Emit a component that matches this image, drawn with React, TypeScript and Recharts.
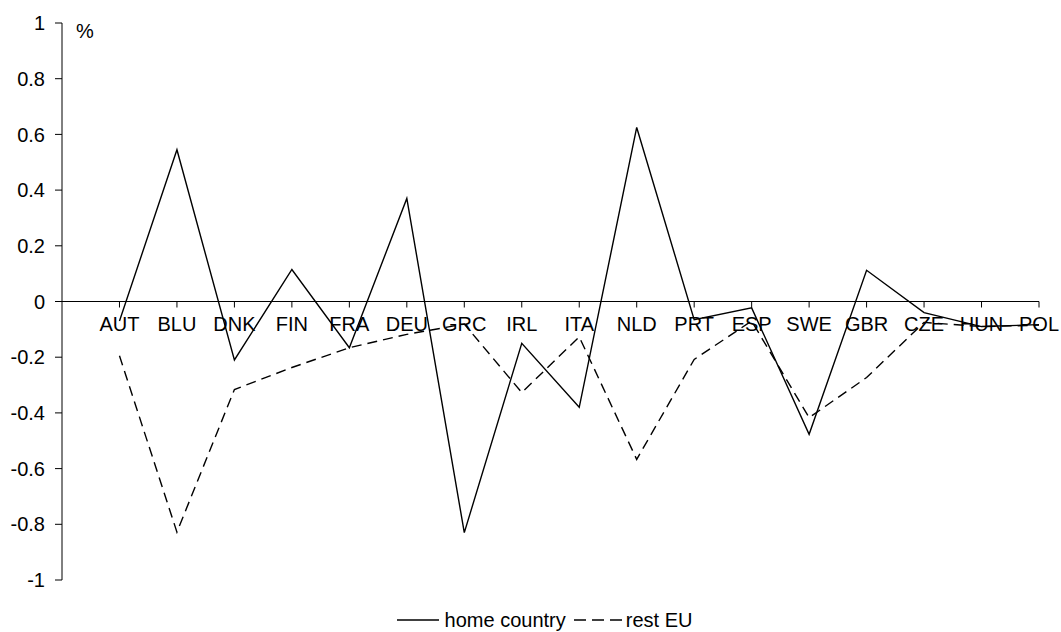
import { LineChart, Line, XAxis, YAxis, ReferenceLine, Legend } from 'recharts';

const countries = ['AUT', 'BLU', 'DNK', 'FIN', 'FRA', 'DEU', 'GRC', 'IRL', 'ITA', 'NLD', 'PRT', 'ESP', 'SWE', 'GBR', 'CZE', 'HUN', 'POL'];
const homeCountry = [-0.07, 0.545, -0.21, 0.115, -0.166, 0.37, -0.83, -0.15, -0.38, 0.625, -0.065, -0.023, -0.477, 0.112, -0.04, -0.09, -0.083];
const restEU = [-0.195, -0.828, -0.316, -0.237, -0.166, -0.118, -0.081, -0.327, -0.127, -0.567, -0.208, -0.07, -0.417, -0.273, -0.075, -0.09, -0.085];
const yTicks = [-1, -0.8, -0.6, -0.4, -0.2, 0, 0.2, 0.4, 0.6, 0.8, 1];

const W = 1061;
const H = 632;
const M = { top: 23, right: 22, bottom: 0, left: 0 };
const X_H = 1;
const LEGEND_H = 51;
const PLOT_H = H - M.top - M.bottom - LEGEND_H - X_H;
const FONT = '"Liberation Sans", Arial, sans-serif';
const FS = 20;

const data = countries.map((c, i) => ({ pos: i + 1, name: c, home: homeCountry[i], rest: restEU[i] }));

// x labels sit under the zero line, not at the bottom of the plot
const CountryTick = (props: any) => {
  const { x, y, payload } = props;
  const zeroY = y - PLOT_H / 2;
  return (
    <g>
      <line x1={x} x2={x} y1={zeroY} y2={zeroY + 6} stroke="#000" strokeWidth={1} />
      <text x={x} y={zeroY + 15} dy="0.71em" textAnchor="middle" fontSize={FS} fontFamily={FONT} fill="#000">
        {countries[payload.value - 1]}
      </text>
    </g>
  );
};

const LegendBox = () => (
  <div style={{ height: LEGEND_H, display: 'flex', justifyContent: 'center', alignItems: 'flex-end', paddingLeft: 28, fontFamily: FONT, fontSize: FS, color: '#000' }}>
    <div style={{ display: 'flex', alignItems: 'center', lineHeight: '22px', marginBottom: 1 }}>
      <svg width={48} height={10}>
        <line x1={0} x2={42} y1={5} y2={5} stroke="#000" strokeWidth={1.3} />
      </svg>
      <span style={{ marginRight: 8 }}>home country</span>
      <svg width={52} height={10}>
        <line x1={0} x2={48} y1={5} y2={5} stroke="#000" strokeWidth={1.6} strokeDasharray="12 6" />
      </svg>
      <span>rest EU</span>
    </div>
  </div>
);

export default function App() {
  return (
    <div style={{ position: 'absolute', left: 0, top: 0, width: W, height: H, background: '#fff' }}>
      <LineChart width={W} height={H} data={data} margin={M}>
        <XAxis
          dataKey="pos"
          type="number"
          domain={[0, 17]}
          ticks={data.map((d) => d.pos)}
          axisLine={false}
          tickLine={false}
          tickSize={0}
          tickMargin={0}
          height={X_H}
          tick={(p: any) => <CountryTick {...p} />}
          interval={0}
        />
        <YAxis
          domain={[-1, 1]}
          ticks={yTicks}
          width={62}
          axisLine={{ stroke: '#000' }}
          tickLine={{ stroke: '#000' }}
          tickSize={7}
          tickMargin={10}
          interval={0}
          tick={{ fill: '#000', fontSize: FS, fontFamily: FONT }}
          tickFormatter={(v: number) => String(Math.round(v * 10) / 10)}
          label={{
            content: (p: any) => (
              <text x={p.viewBox.x + p.viewBox.width + 14} y={p.viewBox.y + 15} fontSize={FS} fontFamily={FONT} fill="#000">%</text>
            ),
          }}
        />
        <ReferenceLine y={0} stroke="#000" strokeWidth={1} />
        <Line type="linear" dataKey="home" name="home country" stroke="#000" strokeWidth={1.4} dot={false} isAnimationActive={false} />
        <Line type="linear" dataKey="rest" name="rest EU" stroke="#000" strokeWidth={1.4} strokeDasharray="10 6" dot={false} isAnimationActive={false} />
        <Legend verticalAlign="bottom" content={<LegendBox />} wrapperStyle={{ width: W, left: 0 }} />
      </LineChart>
    </div>
  );
}
